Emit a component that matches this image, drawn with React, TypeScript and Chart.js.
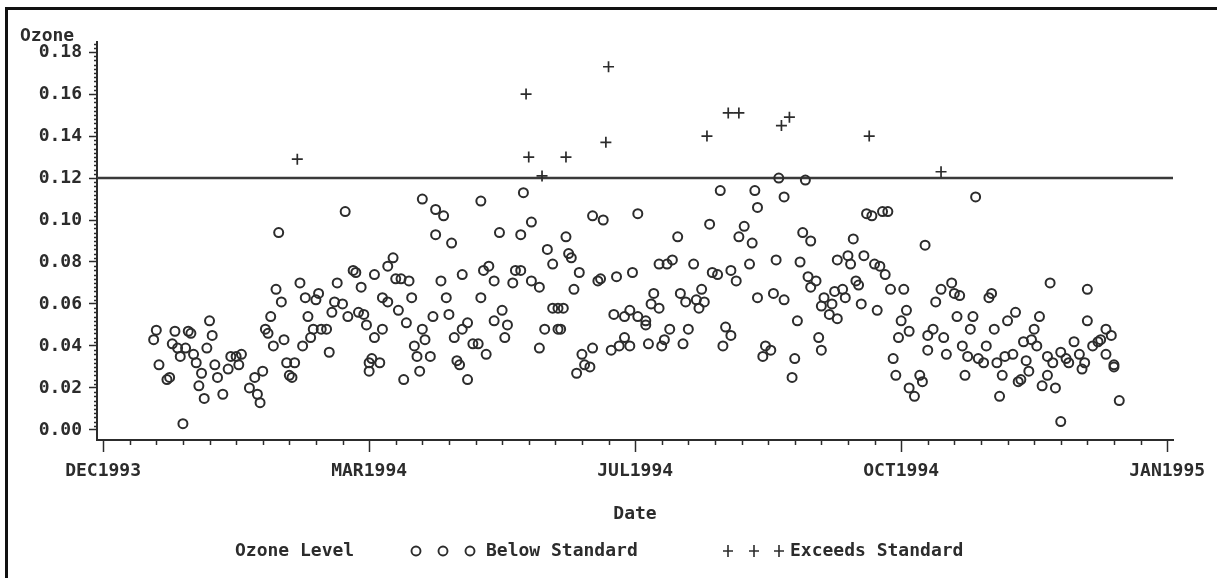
import React, { useEffect, useRef } from "react";
import { Chart, registerables } from "chart.js";

Chart.register(...registerables);

// Day of year 1994 (1 = 1 Jan 1994) and daily max ozone (ppm)
const belowDay = [
  1, 2, 3, 6, 7, 8, 9, 10, 11, 12, 13, 14, 15, 16, 17, 18, 19, 20, 21, 22, 23, 24, 25, 27, 29, 30,
  32, 33, 34, 37, 39, 40, 41, 42, 43, 44, 45, 46, 47, 48, 49, 50, 51, 52, 53, 54, 56, 57, 58, 59,
  60, 61, 62, 63, 64, 66, 67, 68, 69, 70,
  72, 73, 74, 76, 77, 78, 79, 80, 81, 82, 83, 84, 82, 84, 86, 87, 87, 89, 89, 91, 92, 93, 94, 95,
  96, 97, 98, 99, 100, 101, 102, 102, 103, 105, 106, 107, 107, 109, 110, 111, 112, 113, 114, 115,
  116, 117, 117, 119, 119, 121, 123, 124, 124, 125, 126, 127, 129, 129, 131, 132, 133, 134, 136,
  137, 139, 139, 140, 143, 143,
  146, 146, 148, 149, 151, 151, 153, 153, 154, 155, 156, 157, 158, 159, 160, 161, 162, 163, 165,
  166, 166, 168, 169, 170, 173, 174, 175, 176, 178, 178, 180, 180, 181, 183, 183, 186, 186, 187,
  188, 189, 191, 191, 192, 193, 194, 195, 196, 198, 199, 200, 201, 202, 204, 205, 206, 207, 208,
  210, 211, 213, 214, 215, 216,
  218, 218, 220, 221, 223, 225, 226, 227, 228, 228, 230, 231, 233, 234, 235, 236, 238, 238, 241,
  242, 243, 244, 245, 246, 247, 248, 248, 250, 251, 252, 252, 253, 255, 256, 257, 258, 258, 260,
  261, 262, 263, 264, 265, 266, 267, 268, 269, 271, 272, 273, 274, 275, 276, 277, 278, 279, 280,
  281, 282, 283, 284, 285, 285, 287, 289, 290, 291, 292, 292,
  294, 295, 297, 298, 299, 301, 302, 303, 304, 305, 306, 307, 308, 309, 310, 311, 313, 314, 315,
  316, 317, 318, 319, 320, 321, 322, 324, 325, 326, 327, 328, 329, 330, 331, 332, 333, 334, 335,
  337, 337, 338, 339, 340, 342, 342, 344, 345, 347, 349, 350, 351, 352, 352, 354, 356, 357, 359,
  359, 361, 362, 362, 364,
];
const belowOzone = [
  0.043, 0.0475, 0.031, 0.024, 0.025, 0.041, 0.047, 0.039, 0.035, 0.003, 0.039, 0.047, 0.046,
  0.036, 0.032, 0.021, 0.027, 0.015, 0.039, 0.052, 0.045, 0.031, 0.025, 0.017, 0.029, 0.035,
  0.035, 0.031, 0.036, 0.02, 0.025, 0.017, 0.013, 0.028, 0.048, 0.046, 0.054, 0.04, 0.067, 0.094,
  0.061, 0.043, 0.032, 0.026, 0.025, 0.032, 0.07, 0.04, 0.063, 0.054,
  0.044, 0.048, 0.062, 0.065, 0.048, 0.048, 0.037, 0.056, 0.061, 0.07,
  0.06, 0.104, 0.054, 0.076, 0.075, 0.056, 0.068, 0.055, 0.05, 0.032, 0.034, 0.074, 0.028, 0.044,
  0.032, 0.048, 0.063, 0.061, 0.078, 0.082, 0.072, 0.057, 0.072, 0.024,
  0.051, 0.071, 0.063, 0.04, 0.035, 0.028, 0.048, 0.11, 0.043, 0.035, 0.054, 0.093, 0.105, 0.071,
  0.102, 0.063, 0.055, 0.089, 0.044, 0.033,
  0.031, 0.048, 0.074, 0.051, 0.024, 0.041, 0.041, 0.063, 0.109, 0.076, 0.036, 0.078, 0.052,
  0.071, 0.094, 0.057, 0.044, 0.05, 0.07,
  0.076, 0.076, 0.093, 0.113, 0.071, 0.099,
  0.068, 0.039, 0.048, 0.086, 0.079, 0.058, 0.048, 0.058, 0.048, 0.058, 0.092, 0.084, 0.082,
  0.067, 0.027, 0.075, 0.036, 0.031, 0.03,
  0.039, 0.102, 0.071, 0.072, 0.1, 0.038, 0.055, 0.073, 0.04, 0.044, 0.054, 0.04, 0.057, 0.075,
  0.103, 0.054, 0.052, 0.05, 0.041,
  0.06, 0.065, 0.058, 0.079, 0.04, 0.043, 0.079, 0.048, 0.081, 0.092, 0.065, 0.041, 0.061, 0.048,
  0.079, 0.062, 0.058, 0.067, 0.061,
  0.098, 0.075, 0.074, 0.114, 0.04, 0.049,
  0.076, 0.045, 0.071, 0.092, 0.097, 0.079, 0.089, 0.114, 0.106, 0.063, 0.035, 0.04, 0.038, 0.065,
  0.081, 0.12, 0.111, 0.062, 0.025,
  0.034, 0.052, 0.08, 0.094, 0.119, 0.073, 0.09, 0.068, 0.071, 0.044, 0.038, 0.059, 0.063, 0.055,
  0.06, 0.066, 0.053, 0.081, 0.067,
  0.063, 0.083, 0.079, 0.091, 0.071, 0.069, 0.06, 0.083, 0.103, 0.102, 0.079, 0.057, 0.078, 0.104,
  0.074, 0.104, 0.067, 0.034, 0.026,
  0.044, 0.052, 0.067, 0.057, 0.047, 0.02, 0.016, 0.026, 0.023, 0.088, 0.045, 0.038,
  0.048, 0.061, 0.067, 0.044, 0.036, 0.07, 0.065, 0.054, 0.064, 0.04, 0.026, 0.035, 0.048, 0.054,
  0.111, 0.034, 0.032, 0.04, 0.063,
  0.065, 0.048, 0.032, 0.016, 0.026, 0.035, 0.052, 0.036, 0.056, 0.023, 0.024, 0.042, 0.033, 0.028,
  0.043, 0.048, 0.04, 0.054, 0.021,
  0.026, 0.035, 0.07, 0.032, 0.02, 0.037, 0.004, 0.034, 0.032, 0.042, 0.036, 0.029, 0.032, 0.067,
  0.052, 0.04, 0.042, 0.043, 0.048,
  0.036, 0.045, 0.031, 0.03, 0.014,
];
const exceedDay = [55, 141, 142, 147, 156, 171, 172, 209, 217, 221, 237, 240, 270, 297];
const exceedOzone = [
  0.129, 0.16, 0.13, 0.121, 0.13, 0.137, 0.173, 0.14, 0.151, 0.151, 0.145, 0.149, 0.14, 0.123,
];

const STANDARD = 0.12;
const dateTickDays = [-18, 82, 182, 282, 382];
const dateTickLabels = ["DEC1993", "MAR1994", "JUL1994", "OCT1994", "JAN1995"];
const ozoneTicks = [0, 0.02, 0.04, 0.06, 0.08, 0.1, 0.12, 0.14, 0.16, 0.18];
const X_MIN = -20.3;
const X_MAX = 384.2;
const Y_MIN = -0.0048;
const Y_MAX = 0.1848;

const INK = "#2c2c2c";
const FAMILY = "'DejaVu Sans Mono', monospace";
const FONT_SIZE = 18;
const W = 1217;
const H = 578;

export default function App() {
  const ref = useRef<HTMLCanvasElement | null>(null);

  useEffect(() => {
    const canvas = ref.current;
    if (!canvas) return;

    const decor = {
      id: "decor",
      beforeDraw(chart: any) {
        const ctx = chart.ctx;
        ctx.save();
        ctx.fillStyle = "#ffffff";
        ctx.fillRect(0, 0, chart.width, chart.height);
        ctx.restore();
      },
      afterDraw(chart: any) {
        const ctx = chart.ctx;
        const xs = chart.scales.x;
        const ys = chart.scales.y;
        const area = chart.chartArea;
        ctx.save();
        // minor ticks
        ctx.strokeStyle = INK;
        ctx.lineWidth = 1.5;
        ctx.beginPath();
        for (let d = dateTickDays[0]; d <= dateTickDays[dateTickDays.length - 1]; d += 10) {
          if (dateTickDays.includes(d)) continue;
          const px = Math.round(xs.getPixelForValue(d)) + 0.5;
          ctx.moveTo(px, area.bottom);
          ctx.lineTo(px, area.bottom + 5);
        }
        for (let i = 0; i * 0.002 <= Y_MAX; i++) {
          if (i % 10 === 0) continue;
          const py = Math.round(ys.getPixelForValue(i * 0.002)) + 0.5;
          ctx.moveTo(area.left - 3, py);
          ctx.lineTo(area.left, py);
        }
        ctx.stroke();

        // y-axis label
        ctx.fillStyle = INK;
        ctx.font = `bold ${FONT_SIZE}px ${FAMILY}`;
        ctx.textBaseline = "middle";
        ctx.textAlign = "left";
        ctx.fillText("Ozone", 20, 36);

        // legend
        const ly = 551;
        ctx.fillText("Ozone Level", 235, ly);
        ctx.lineWidth = 1.9;
        [416, 443, 470].forEach((cx) => {
          ctx.beginPath();
          ctx.arc(cx, ly, 4.5, 0, Math.PI * 2);
          ctx.stroke();
        });
        ctx.fillText("Below Standard", 486, ly);
        ctx.lineWidth = 1.6;
        [728, 754, 779].forEach((cx) => {
          ctx.beginPath();
          ctx.moveTo(cx - 5, ly);
          ctx.lineTo(cx + 5, ly);
          ctx.moveTo(cx, ly - 6);
          ctx.lineTo(cx, ly + 6);
          ctx.stroke();
        });
        ctx.fillText("Exceeds Standard", 790, ly);

        // frame
        ctx.fillStyle = "#111111";
        ctx.fillRect(5, 7, W - 5, 3);
        ctx.fillRect(5, 7, 3, H - 7);
        ctx.restore();
      },
    };

    const tickFont = { family: FAMILY, size: FONT_SIZE, weight: "bold" as const };

    const chart = new Chart(canvas, {
      type: "scatter",
      data: {
        datasets: [
          {
            label: "Below Standard",
            data: belowDay.map((d, i) => ({ x: d, y: belowOzone[i] })),
            pointStyle: "circle",
            pointRadius: 4.5,
            pointHoverRadius: 4.5,
            borderColor: INK,
            backgroundColor: "rgba(0,0,0,0)",
            borderWidth: 2,
          },
          {
            label: "Exceeds Standard",
            data: exceedDay.map((d, i) => ({ x: d, y: exceedOzone[i] })),
            pointStyle: "cross",
            pointRadius: 5.5,
            pointHoverRadius: 5.5,
            borderColor: INK,
            backgroundColor: INK,
            borderWidth: 1.7,
          },
          {
            type: "line",
            label: "Standard",
            data: [
              { x: X_MIN, y: STANDARD },
              { x: X_MAX, y: STANDARD },
            ],
            borderColor: "#3a3a3a",
            borderWidth: 2.5,
            pointRadius: 0,
            showLine: true,
            fill: false,
          } as any,
        ],
      },
      options: {
        responsive: false,
        animation: false,
        devicePixelRatio: 1,
        layout: { padding: { left: 0, top: 42, right: W - 1173, bottom: 0 } },
        plugins: {
          legend: { display: false },
          tooltip: { enabled: false },
          title: { display: false },
        },
        scales: {
          x: {
            type: "linear",
            min: X_MIN,
            max: X_MAX,
            afterBuildTicks: (scale: any) => {
              scale.ticks = dateTickDays.map((v) => ({ value: v }));
            },
            afterFit: (scale: any) => {
              scale.height = H - 440;
            },
            ticks: {
              autoSkip: false,
              maxRotation: 0,
              padding: 9,
              color: INK,
              font: tickFont,
              callback: (v: any) => {
                const i = dateTickDays.indexOf(Number(v));
                return i >= 0 ? dateTickLabels[i] : "";
              },
            },
            grid: {
              drawOnChartArea: false,
              drawTicks: true,
              tickLength: 12,
              tickColor: INK,
              tickWidth: 1.5,
            },
            border: { display: true, color: INK, width: 2 },
            title: {
              display: true,
              text: "Date",
              color: INK,
              font: tickFont,
              padding: { top: 0, bottom: H - 514 - FONT_SIZE * 0.6 },
            },
          },
          y: {
            type: "linear",
            min: Y_MIN,
            max: Y_MAX,
            afterBuildTicks: (scale: any) => {
              scale.ticks = ozoneTicks.map((v) => ({ value: v }));
            },
            afterFit: (scale: any) => {
              scale.width = 97;
            },
            ticks: {
              autoSkip: false,
              padding: 7,
              color: INK,
              font: tickFont,
              callback: (v: any) => Number(v).toFixed(2),
            },
            grid: {
              drawOnChartArea: false,
              drawTicks: true,
              tickLength: 8,
              tickColor: INK,
              tickWidth: 1.5,
            },
            border: { display: true, color: INK, width: 2 },
          },
        },
      },
      plugins: [decor],
    });

    return () => chart.destroy();
  }, []);

  return (
    <div style={{ position: "absolute", left: 0, top: 0, width: W, height: H, background: "#fff" }}>
      <canvas ref={ref} width={W} height={H} style={{ display: "block" }} />
    </div>
  );
}
